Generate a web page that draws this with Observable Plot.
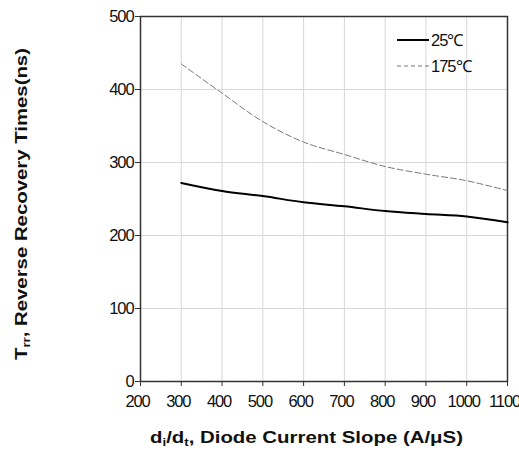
<!DOCTYPE html>
<html>
<head>
<meta charset="utf-8">
<script src="https://cdn.jsdelivr.net/npm/d3@7"></script>
<script src="https://cdn.jsdelivr.net/npm/@observablehq/plot@0.6"></script>
<style>
  body { margin: 0; background: #fff; }
  #chart svg { display: block; }
</style>
</head>
<body>
<div id="chart"></div>
<script>
const slope = [300, 400, 500, 600, 700, 800, 900, 1000, 1100];
const trr25 = [272, 261, 254, 245.5, 240, 233.5, 229.5, 226, 218];
const trr175 = [435, 395, 356, 328, 311, 294.5, 284, 275, 261.5];
const seriesNames = ["25℃", "175℃"];
const xTicks = [200, 300, 400, 500, 600, 700, 800, 900, 1000, 1100];
const yTicks = [0, 100, 200, 300, 400, 500];

const data = [];
slope.forEach((s, i) => {
  data.push({x: s, y: trr25[i], series: seriesNames[0]});
  data.push({x: s, y: trr175[i], series: seriesNames[1]});
});

const font = "'Liberation Sans', Arial, sans-serif";

const chart = Plot.plot({
  width: 519,
  height: 457,
  marginLeft: 140,
  marginRight: 12,
  marginTop: 16,
  marginBottom: 76,
  style: {fontFamily: font, fontSize: "16.5px", color: "#111", background: "#fff", letterSpacing: "-1.1px"},
  x: {domain: [200, 1100], ticks: xTicks, label: null, tickFormat: d => String(d)},
  y: {domain: [0, 500], ticks: yTicks, label: null, tickFormat: d => String(d)},
  marks: [
    Plot.gridX(xTicks, {stroke: "#d8d8d8", strokeOpacity: 1, strokeWidth: 1}),
    Plot.gridY(yTicks, {stroke: "#d8d8d8", strokeOpacity: 1, strokeWidth: 1}),
    Plot.frame({stroke: "#333", strokeWidth: 1.5}),
    Plot.axisX({ticks: xTicks, tickSize: 5, stroke: "#333", tickFormat: () => ""}),
    Plot.axisX({ticks: xTicks, tickSize: 0, tickPadding: 14, fontSize: 16.5, dx: -3, tickFormat: d => String(d)}),
    Plot.axisY({ticks: yTicks, tickSize: 5, tickPadding: 2, fontSize: 16.5, stroke: "#333", tickFormat: d => String(d)}),
    Plot.line(data.filter(d => d.series === seriesNames[1]), {x: "x", y: "y", stroke: "#777", strokeWidth: 1, strokeDasharray: "6,3", curve: "catmull-rom"}),
    Plot.line(data.filter(d => d.series === seriesNames[0]), {x: "x", y: "y", stroke: "#000", strokeWidth: 2, curve: "catmull-rom"})
  ]
});

document.getElementById("chart").appendChild(chart);

const svg = d3.select(chart);
// Legend
const lg = svg.append("g").attr("font-family", font).attr("font-size", 16.5).attr("fill", "#111").attr("text-anchor", "start").style("letter-spacing", "-1px");
lg.append("line").attr("x1", 397).attr("x2", 429).attr("y1", 40).attr("y2", 40).attr("stroke", "#000").attr("stroke-width", 2);
lg.append("text").attr("x", 431).attr("y", 46).text(seriesNames[0]);
lg.append("line").attr("x1", 397).attr("x2", 429).attr("y1", 66).attr("y2", 66).attr("stroke", "#777").attr("stroke-width", 1).attr("stroke-dasharray", "4,3");
lg.append("text").attr("x", 431).attr("y", 72).text(seriesNames[1]);

// Axis titles with subscripts
const xt = svg.append("text").attr("x", 150).attr("y", 443).attr("text-anchor", "start")
  .attr("font-family", font).attr("font-weight", "bold").attr("font-size", 17).attr("fill", "#111")
  .style("letter-spacing", "0px").attr("textLength", 313).attr("lengthAdjust", "spacingAndGlyphs");
xt.append("tspan").text("d");
xt.append("tspan").attr("font-size", 11).attr("dy", 3).text("i");
xt.append("tspan").attr("dy", -3).text("/d");
xt.append("tspan").attr("font-size", 11).attr("dy", 3).text("t");
xt.append("tspan").attr("dy", -3).text(", Diode Current Slope (A/μS)");

const yt = svg.append("text").attr("transform", "translate(27,360) rotate(-90)").attr("text-anchor", "start")
  .attr("font-family", font).attr("font-weight", "bold").attr("font-size", 17).attr("fill", "#111")
  .style("letter-spacing", "0px").attr("textLength", 312).attr("lengthAdjust", "spacingAndGlyphs");
yt.append("tspan").text("T");
yt.append("tspan").attr("font-size", 11).attr("dy", 3).text("rr");
yt.append("tspan").attr("dy", -3).text(", Reverse Recovery Times(ns)");
</script>
</body>
</html>
